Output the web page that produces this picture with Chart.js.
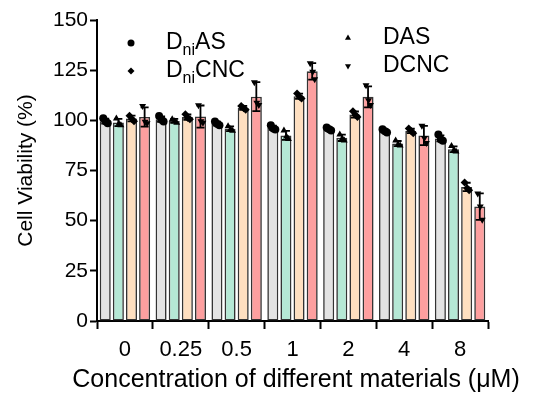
<!DOCTYPE html>
<html>
<head>
<meta charset="utf-8">
<script src="https://cdn.jsdelivr.net/npm/chart.js"></script>
<style>
  html, body { margin: 0; padding: 0; background: #fff; }
  #wrap { width: 539px; height: 394px; }
</style>
</head>
<body>
<div id="wrap"><canvas id="viability" width="539" height="394"></canvas></div>
<script>
// cell viability (%) after treatment, mean, SD and the three wells
var concentrations = ['0', '0.25', '0.5', '1', '2', '4', '8'];

var dniAS  = [99.6, 100.6, 98.4, 96.3, 95.6, 94.7, 91.0];
var das    = [98.9, 99.7, 95.8, 92.5, 91.3, 88.4, 85.6];
var dniCNC = [100.9, 101.6, 106.2, 112.0, 102.9, 94.7, 66.8];
var dcnc   = [101.7, 101.9, 111.8, 124.4, 111.7, 92.4, 57.0];

var dniAS_sd  = [1.2, 1.3, 1.0, 1.1, 0.8, 0.8, 1.5];
var das_sd    = [1.8, 1.0, 1.2, 2.2, 1.6, 1.3, 1.4];
var dniCNC_sd = [1.4, 1.3, 1.0, 1.3, 1.5, 1.1, 2.1];
var dcnc_sd   = [4.8, 5.5, 7.2, 4.1, 5.2, 4.8, 6.6];

var dniAS_wells = [[101.0, 99.4, 98.5], [102.2, 100.3, 99.4], [99.4, 98.2, 97.5], [97.5, 95.9, 95.4],
                   [96.4, 95.6, 94.9], [95.6, 94.6, 93.9], [92.9, 90.4, 89.8]];
var das_wells = [[100.9, 98.3, 97.5], [100.6, 99.6, 98.8], [97.0, 95.5, 94.8], [94.9, 91.9, 90.7],
                 [93.0, 91.0, 89.9], [89.9, 88.0, 87.4], [87.2, 85.1, 84.5]];
var dniCNC_wells = [[102.3, 100.7, 99.6], [103.0, 101.2, 100.6], [107.2, 106.0, 105.3], [113.4, 111.7, 110.9],
                    [104.5, 102.6, 101.6], [95.9, 94.6, 93.6], [69.0, 66.2, 65.1]];
var dcnc_wells = [[107.2, 99.3, 98.6], [107.5, 99.5, 98.8], [119.0, 108.8, 107.6], [128.5, 124.2, 120.5],
                  [117.5, 110.0, 107.6], [97.3, 91.2, 88.7], [63.6, 57.0, 50.4]];

var xTitle = 'Concentration of different materials (μM)';
var yTitle = 'Cell Viability (%)';

var FONT = 'Arial, "Liberation Sans", sans-serif';

// pointStyle / rotation used for each series marker
var markers = {
  circle: { pointStyle: 'circle', rotation: 0 },
  diamond: { pointStyle: 'rectRot', rotation: 0 },
  up: { pointStyle: 'triangle', rotation: 0 },
  down: { pointStyle: 'triangle', rotation: 180 }
};

function mark(ctx, kind, r, x, y) {
  ctx.save();
  ctx.fillStyle = '#000';
  ctx.strokeStyle = '#000';
  Chart.helpers.drawPoint(ctx, {
    pointStyle: markers[kind].pointStyle,
    rotation: markers[kind].rotation,
    radius: r,
    borderWidth: 0
  }, x, y);
  ctx.restore();
}

// error bars (mean ± SD) and individual wells on top of each bar
var wellsPlugin = {
  id: 'wells',
  afterDatasetsDraw: function (chart) {
    var ctx = chart.ctx;
    var y = chart.scales.y;
    var jitter = [-2, 0.5, 2.5];
    chart.data.datasets.forEach(function (ds, i) {
      var meta = chart.getDatasetMeta(i);
      meta.data.forEach(function (bar, j) {
        var m = ds.data[j], s = ds.sd[j];
        var top = y.getPixelForValue(m + s), bot = y.getPixelForValue(m - s);
        ctx.save();
        ctx.strokeStyle = '#000';
        ctx.lineWidth = 1.8;
        ctx.beginPath();
        ctx.moveTo(bar.x, top); ctx.lineTo(bar.x, bot);
        ctx.moveTo(bar.x - 4, top); ctx.lineTo(bar.x + 4, top);
        ctx.moveTo(bar.x - 4, bot); ctx.lineTo(bar.x + 4, bot);
        ctx.stroke();
        ctx.restore();
        ds.wells[j].forEach(function (v, k) {
          mark(ctx, ds.marker, 4, bar.x + jitter[k], y.getPixelForValue(v));
        });
      });
    });
  }
};

// two-column legend with markers only, "ni" set as subscript;
// the x title is drawn here too so it can run wider than the plot
var legendPlugin = {
  id: 'subLegend',
  afterDraw: function (chart) {
    var ctx = chart.ctx;
    var items = [
      { kind: 'circle', x: 131, y: 43, parts: ['D', 'ni', 'AS'] },
      { kind: 'diamond', x: 131, y: 71, parts: ['D', 'ni', 'CNC'] },
      { kind: 'up', x: 348, y: 38, parts: ['DAS', '', ''] },
      { kind: 'down', x: 348, y: 66, parts: ['DCNC', '', ''] }
    ];
    items.forEach(function (it) {
      mark(ctx, it.kind, 3.5, it.x, it.y);
      var tx = it.x + 35;
      ctx.save();
      ctx.fillStyle = '#000';
      ctx.textBaseline = 'middle';
      ctx.font = '23px ' + FONT;
      ctx.fillText(it.parts[0], tx, it.y);
      tx += ctx.measureText(it.parts[0]).width;
      if (it.parts[1]) {
        ctx.font = '16px ' + FONT;
        ctx.fillText(it.parts[1], tx, it.y + 8);
        tx += ctx.measureText(it.parts[1]).width;
        ctx.font = '23px ' + FONT;
        ctx.fillText(it.parts[2], tx, it.y);
      }
      ctx.restore();
    });

    ctx.save();
    ctx.fillStyle = '#000';
    ctx.font = '25px ' + FONT;
    ctx.textAlign = 'center';
    ctx.textBaseline = 'middle';
    ctx.fillText(xTitle, 296, 380);
    ctx.restore();
  }
};

function series(label, data, sd, wells, colour, marker) {
  return {
    label: label,
    data: data,
    sd: sd,
    wells: wells,
    marker: marker,
    backgroundColor: colour,
    borderColor: '#333',
    borderWidth: 1.6,
    borderSkipped: false,
    categoryPercentage: 0.94,
    barPercentage: 0.84
  };
}

var chart = new Chart(document.getElementById('viability'), {
  type: 'bar',
  data: {
    labels: concentrations,
    datasets: [
      series('DniAS', dniAS, dniAS_sd, dniAS_wells, '#e3e3e3', 'circle'),
      series('DAS', das, das_sd, das_wells, '#b5e8d5', 'up'),
      series('DniCNC', dniCNC, dniCNC_sd, dniCNC_wells, '#fedfc0', 'diamond'),
      series('DCNC', dcnc, dcnc_sd, dcnc_wells, '#fd9f9f', 'down')
    ]
  },
  options: {
    responsive: false,
    animation: false,
    layout: { padding: { top: 20, right: 51, left: 0, bottom: 0 } },
    plugins: {
      legend: { display: false },
      tooltip: { enabled: false }
    },
    scales: {
      x: {
        afterFit: function (s) { s.height = 73; },
        grid: { display: true, drawOnChartArea: false, drawTicks: true, tickLength: 8, tickWidth: 2, color: '#000' },
        border: { display: true, color: '#000', width: 2 },
        ticks: { color: '#000', font: { family: FONT, size: 22 }, padding: 8 }
      },
      y: {
        min: 0,
        max: 150,
        afterFit: function (s) { s.width = 97; },
        grid: { display: true, drawOnChartArea: false, drawTicks: true, tickLength: 7, tickWidth: 2, color: '#000' },
        border: { display: true, color: '#000', width: 2 },
        ticks: { stepSize: 25, color: '#000', font: { family: FONT, size: 21 }, padding: 2 },
        title: { display: true, text: yTitle, color: '#000',
                 font: { family: FONT, size: 21 }, padding: { top: 14, bottom: 0 } }
      }
    }
  },
  plugins: [wellsPlugin, legendPlugin]
});
</script>
</body>
</html>
